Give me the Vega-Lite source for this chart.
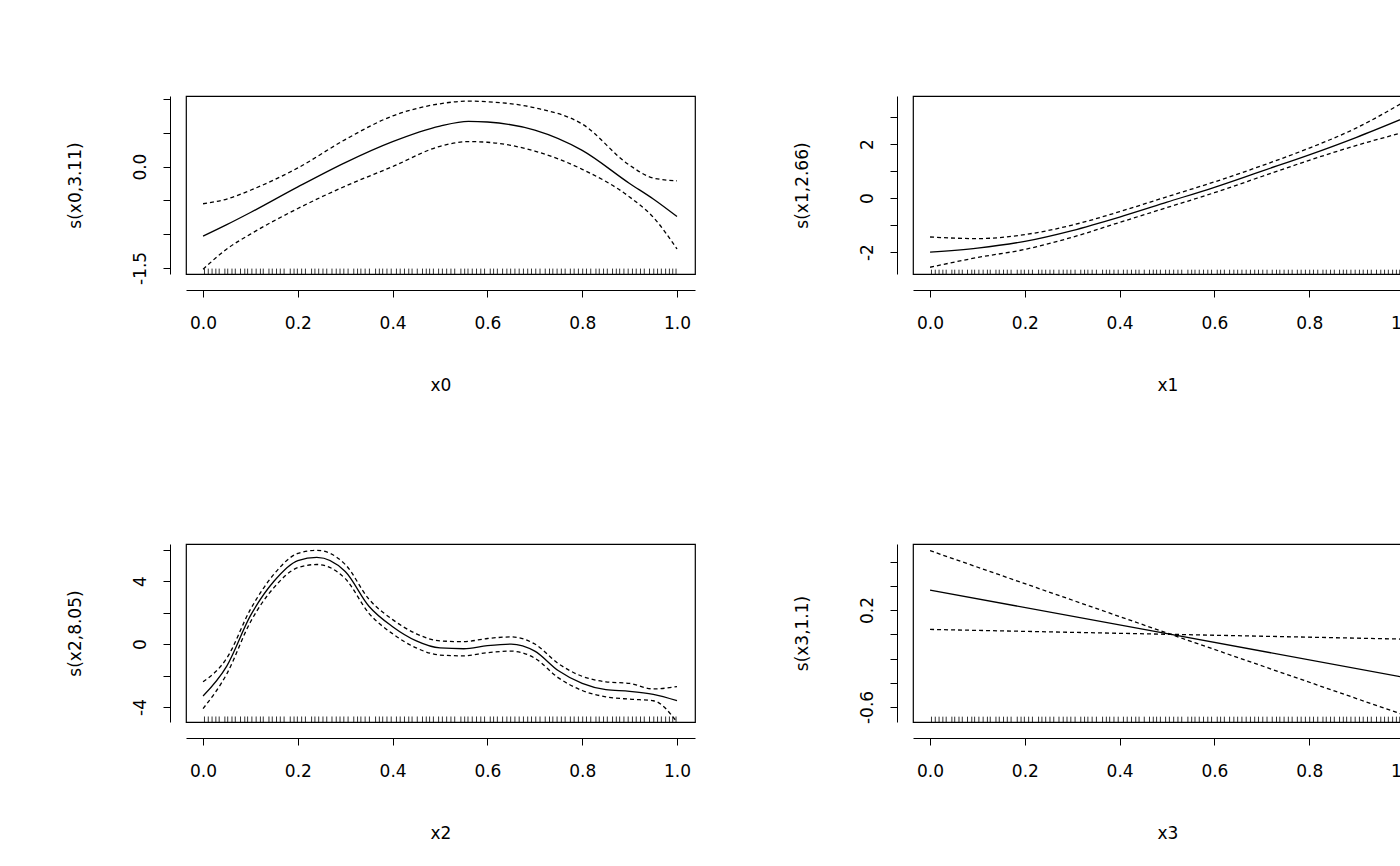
{
  "$schema": "https://vega.github.io/schema/vega-lite/v6.json",
  "background": "white",
  "padding": {"left": 65, "top": 95, "right": 10, "bottom": 10},
  "datasets": {
    "p0": [
      {"x": 0.0, "fit": -1.03, "hi": -0.55, "lo": -1.52},
      {"x": 0.05, "fit": -0.86, "hi": -0.48, "lo": -1.22},
      {"x": 0.1, "fit": -0.68, "hi": -0.35, "lo": -1.0},
      {"x": 0.2, "fit": -0.3, "hi": -0.02, "lo": -0.62},
      {"x": 0.3, "fit": 0.06, "hi": 0.4, "lo": -0.29},
      {"x": 0.4, "fit": 0.37, "hi": 0.75, "lo": 0.0},
      {"x": 0.5, "fit": 0.6, "hi": 0.93, "lo": 0.3},
      {"x": 0.56, "fit": 0.67, "hi": 0.97, "lo": 0.37},
      {"x": 0.6, "fit": 0.66, "hi": 0.96, "lo": 0.36},
      {"x": 0.7, "fit": 0.54, "hi": 0.87, "lo": 0.23},
      {"x": 0.8, "fit": 0.24, "hi": 0.63, "lo": -0.04},
      {"x": 0.9, "fit": -0.25, "hi": 0.02, "lo": -0.45},
      {"x": 0.95, "fit": -0.48, "hi": -0.17, "lo": -0.75},
      {"x": 1.0, "fit": -0.74, "hi": -0.21, "lo": -1.22}
    ],
    "p1": [
      {"x": 0.0, "fit": -2.0, "hi": -1.44, "lo": -2.56},
      {"x": 0.1, "fit": -1.85, "hi": -1.5, "lo": -2.2},
      {"x": 0.2, "fit": -1.6, "hi": -1.35, "lo": -1.9},
      {"x": 0.3, "fit": -1.2, "hi": -1.0, "lo": -1.45},
      {"x": 0.4, "fit": -0.7, "hi": -0.5, "lo": -0.9},
      {"x": 0.5, "fit": -0.15, "hi": 0.05, "lo": -0.35},
      {"x": 0.6, "fit": 0.4, "hi": 0.6, "lo": 0.2},
      {"x": 0.7, "fit": 1.0, "hi": 1.2, "lo": 0.8},
      {"x": 0.8, "fit": 1.6, "hi": 1.85, "lo": 1.4},
      {"x": 0.9, "fit": 2.25, "hi": 2.6, "lo": 1.95},
      {"x": 1.0, "fit": 2.96, "hi": 3.56, "lo": 2.44}
    ],
    "p2": [
      {"x": 0.0, "fit": -3.3, "hi": -2.4, "lo": -4.1},
      {"x": 0.05, "fit": -1.4, "hi": -0.9, "lo": -1.9},
      {"x": 0.1, "fit": 1.8, "hi": 2.2, "lo": 1.4},
      {"x": 0.15, "fit": 4.0, "hi": 4.45, "lo": 3.6},
      {"x": 0.2, "fit": 5.3, "hi": 5.75, "lo": 4.85},
      {"x": 0.24, "fit": 5.5, "hi": 5.95, "lo": 5.05},
      {"x": 0.3, "fit": 4.6, "hi": 5.05, "lo": 4.15},
      {"x": 0.35, "fit": 2.4, "hi": 2.85, "lo": 1.95},
      {"x": 0.4, "fit": 1.1, "hi": 1.55, "lo": 0.65},
      {"x": 0.45, "fit": 0.2, "hi": 0.65, "lo": -0.25},
      {"x": 0.5, "fit": -0.25, "hi": 0.2, "lo": -0.7},
      {"x": 0.55, "fit": -0.3, "hi": 0.15, "lo": -0.75},
      {"x": 0.6, "fit": -0.1, "hi": 0.35, "lo": -0.55},
      {"x": 0.65, "fit": 0.0, "hi": 0.45, "lo": -0.45},
      {"x": 0.7, "fit": -0.45, "hi": 0.0, "lo": -0.9},
      {"x": 0.75, "fit": -1.7, "hi": -1.25, "lo": -2.15},
      {"x": 0.8, "fit": -2.5, "hi": -2.05, "lo": -2.95},
      {"x": 0.85, "fit": -2.9, "hi": -2.4, "lo": -3.35},
      {"x": 0.9, "fit": -3.0, "hi": -2.5, "lo": -3.5},
      {"x": 0.95, "fit": -3.2, "hi": -2.85, "lo": -3.6},
      {"x": 1.0, "fit": -3.6, "hi": -2.7, "lo": -4.95}
    ],
    "p3": [
      {"x": 0.0, "fit": 0.365, "hi": 0.69, "lo": 0.04},
      {"x": 0.5, "fit": 0.005, "hi": 0.01, "lo": 0.0},
      {"x": 1.0, "fit": -0.355, "hi": -0.666, "lo": -0.04}
    ],
    "rug": [
      {"x": 0.003}, {"x": 0.011}, {"x": 0.019}, {"x": 0.027}, {"x": 0.034}, {"x": 0.046}, {"x": 0.052},
      {"x": 0.061}, {"x": 0.068}, {"x": 0.079}, {"x": 0.088}, {"x": 0.094}, {"x": 0.103}, {"x": 0.112},
      {"x": 0.121}, {"x": 0.127}, {"x": 0.139}, {"x": 0.146}, {"x": 0.155}, {"x": 0.163}, {"x": 0.171},
      {"x": 0.184}, {"x": 0.192}, {"x": 0.199}, {"x": 0.208}, {"x": 0.216}, {"x": 0.229}, {"x": 0.236},
      {"x": 0.244}, {"x": 0.253}, {"x": 0.261}, {"x": 0.272}, {"x": 0.281}, {"x": 0.289}, {"x": 0.297},
      {"x": 0.306}, {"x": 0.318}, {"x": 0.326}, {"x": 0.333}, {"x": 0.342}, {"x": 0.351}, {"x": 0.364},
      {"x": 0.372}, {"x": 0.379}, {"x": 0.388}, {"x": 0.397}, {"x": 0.408}, {"x": 0.416}, {"x": 0.425},
      {"x": 0.434}, {"x": 0.441}, {"x": 0.452}, {"x": 0.463}, {"x": 0.471}, {"x": 0.478}, {"x": 0.486},
      {"x": 0.497}, {"x": 0.505}, {"x": 0.514}, {"x": 0.523}, {"x": 0.531}, {"x": 0.544}, {"x": 0.552},
      {"x": 0.559}, {"x": 0.568}, {"x": 0.577}, {"x": 0.586}, {"x": 0.594}, {"x": 0.606}, {"x": 0.613},
      {"x": 0.621}, {"x": 0.632}, {"x": 0.641}, {"x": 0.649}, {"x": 0.658}, {"x": 0.667}, {"x": 0.676},
      {"x": 0.685}, {"x": 0.693}, {"x": 0.702}, {"x": 0.711}, {"x": 0.722}, {"x": 0.731}, {"x": 0.738},
      {"x": 0.747}, {"x": 0.756}, {"x": 0.764}, {"x": 0.775}, {"x": 0.783}, {"x": 0.792}, {"x": 0.801},
      {"x": 0.809}, {"x": 0.818}, {"x": 0.829}, {"x": 0.836}, {"x": 0.845}, {"x": 0.853}, {"x": 0.864},
      {"x": 0.872}, {"x": 0.879}, {"x": 0.888}, {"x": 0.897}, {"x": 0.906}, {"x": 0.914}, {"x": 0.923},
      {"x": 0.931}, {"x": 0.942}, {"x": 0.951}, {"x": 0.959}, {"x": 0.967}, {"x": 0.976}, {"x": 0.984},
      {"x": 0.991}, {"x": 0.998}
    ]
  },
  "spacing": 149,
  "vconcat": [
    {
      "spacing": 96,
      "hconcat": [
        {
          "width": 509, "height": 178,
          "layer": [
            {"data": {"name": "p0"}, "mark": {"type": "line", "color": "black", "strokeWidth": 1.3, "interpolate": "monotone"}, "encoding": {"y": {"field": "fit", "type": "quantitative"}}},
            {"data": {"name": "p0"}, "mark": {"type": "line", "color": "black", "strokeWidth": 1.3, "strokeDash": [4, 3], "interpolate": "monotone"}, "encoding": {"y": {"field": "hi", "type": "quantitative"}}},
            {"data": {"name": "p0"}, "mark": {"type": "line", "color": "black", "strokeWidth": 1.3, "strokeDash": [4, 3], "interpolate": "monotone"}, "encoding": {"y": {"field": "lo", "type": "quantitative"}}},
            {"data": {"name": "rug"}, "mark": {"type": "rule", "color": "black", "strokeWidth": 0.8}, "encoding": {"y": {"datum": -1.59}, "y2": {"datum": -1.51}}}
          ],
          "encoding": {
            "x": {"field": "x", "type": "quantitative", "scale": {"domain": [-0.036, 1.038], "nice": false, "zero": false},
              "axis": {"title": "x0", "values": [0, 0.2, 0.4, 0.6, 0.8, 1.0], "format": ".1f"}},
            "y": {"type": "quantitative", "scale": {"domain": [-1.59, 1.045], "nice": false, "zero": false},
              "axis": {"title": "s(x0,3.11)", "values": [-1.5, -1, -0.5, 0, 0.5, 1], "labelExpr": "datum.value == -1.5 ? '-1.5' : datum.value == 0 ? '0.0' : ''"}}
          }
        },
        {
          "width": 509, "height": 178,
          "layer": [
            {"data": {"name": "p1"}, "mark": {"type": "line", "color": "black", "strokeWidth": 1.3, "interpolate": "monotone"}, "encoding": {"y": {"field": "fit", "type": "quantitative"}}},
            {"data": {"name": "p1"}, "mark": {"type": "line", "color": "black", "strokeWidth": 1.3, "strokeDash": [4, 3], "interpolate": "monotone"}, "encoding": {"y": {"field": "hi", "type": "quantitative"}}},
            {"data": {"name": "p1"}, "mark": {"type": "line", "color": "black", "strokeWidth": 1.3, "strokeDash": [4, 3], "interpolate": "monotone"}, "encoding": {"y": {"field": "lo", "type": "quantitative"}}},
            {"data": {"name": "rug"}, "mark": {"type": "rule", "color": "black", "strokeWidth": 0.8}, "encoding": {"y": {"datum": -2.81}, "y2": {"datum": -2.65}}}
          ],
          "encoding": {
            "x": {"field": "x", "type": "quantitative", "scale": {"domain": [-0.036, 1.038], "nice": false, "zero": false},
              "axis": {"title": "x1", "values": [0, 0.2, 0.4, 0.6, 0.8, 1.0], "format": ".1f"}},
            "y": {"type": "quantitative", "scale": {"domain": [-2.81, 3.78], "nice": false, "zero": false},
              "axis": {"title": "s(x1,2.66)", "values": [-2, -1, 0, 1, 2, 3], "labelExpr": "datum.value == -2 ? '-2' : datum.value == 0 ? '0' : datum.value == 2 ? '2' : ''"}}
          }
        }
      ]
    },
    {
      "spacing": 96,
      "hconcat": [
        {
          "width": 509, "height": 178,
          "layer": [
            {"data": {"name": "p2"}, "mark": {"type": "line", "color": "black", "strokeWidth": 1.3, "interpolate": "monotone"}, "encoding": {"y": {"field": "fit", "type": "quantitative"}}},
            {"data": {"name": "p2"}, "mark": {"type": "line", "color": "black", "strokeWidth": 1.3, "strokeDash": [4, 3], "interpolate": "monotone"}, "encoding": {"y": {"field": "hi", "type": "quantitative"}}},
            {"data": {"name": "p2"}, "mark": {"type": "line", "color": "black", "strokeWidth": 1.3, "strokeDash": [4, 3], "interpolate": "monotone"}, "encoding": {"y": {"field": "lo", "type": "quantitative"}}},
            {"data": {"name": "rug"}, "mark": {"type": "rule", "color": "black", "strokeWidth": 0.8}, "encoding": {"y": {"datum": -4.95}, "y2": {"datum": -4.6}}}
          ],
          "encoding": {
            "x": {"field": "x", "type": "quantitative", "scale": {"domain": [-0.036, 1.038], "nice": false, "zero": false},
              "axis": {"title": "x2", "values": [0, 0.2, 0.4, 0.6, 0.8, 1.0], "format": ".1f"}},
            "y": {"type": "quantitative", "scale": {"domain": [-4.95, 6.35], "nice": false, "zero": false},
              "axis": {"title": "s(x2,8.05)", "values": [-4, -2, 0, 2, 4, 6], "labelExpr": "datum.value == -4 ? '-4' : datum.value == 0 ? '0' : datum.value == 4 ? '4' : ''"}}
          }
        },
        {
          "width": 509, "height": 178,
          "layer": [
            {"data": {"name": "p3"}, "mark": {"type": "line", "color": "black", "strokeWidth": 1.3}, "encoding": {"y": {"field": "fit", "type": "quantitative"}}},
            {"data": {"name": "p3"}, "mark": {"type": "line", "color": "black", "strokeWidth": 1.3, "strokeDash": [4, 3]}, "encoding": {"y": {"field": "hi", "type": "quantitative"}}},
            {"data": {"name": "p3"}, "mark": {"type": "line", "color": "black", "strokeWidth": 1.3, "strokeDash": [4, 3]}, "encoding": {"y": {"field": "lo", "type": "quantitative"}}},
            {"data": {"name": "rug"}, "mark": {"type": "rule", "color": "black", "strokeWidth": 0.8}, "encoding": {"y": {"datum": -0.724}, "y2": {"datum": -0.68}}}
          ],
          "encoding": {
            "x": {"field": "x", "type": "quantitative", "scale": {"domain": [-0.036, 1.038], "nice": false, "zero": false},
              "axis": {"title": "x3", "values": [0, 0.2, 0.4, 0.6, 0.8, 1.0], "format": ".1f"}},
            "y": {"type": "quantitative", "scale": {"domain": [-0.724, 0.745], "nice": false, "zero": false},
              "axis": {"title": "s(x3,1.1)", "values": [-0.6, -0.4, -0.2, 0, 0.2, 0.4, 0.6], "labelExpr": "abs(datum.value + 0.6) < 0.01 ? '-0.6' : abs(datum.value - 0.2) < 0.01 ? '0.2' : ''"}}
          }
        }
      ]
    }
  ],
  "config": {
    "font": "DejaVu Sans",
    "view": {"stroke": "black", "strokeWidth": 1.2},
    "axis": {
      "grid": false,
      "domainColor": "black",
      "tickColor": "black",
      "labelColor": "black",
      "titleColor": "black",
      "labelFont": "DejaVu Sans",
      "titleFont": "DejaVu Sans",
      "labelFontSize": 17,
      "titleFontSize": 17,
      "titleFontWeight": "normal",
      "tickSize": 7,
      "offset": 16
    },
    "axisX": {"labelPadding": 18, "titlePadding": 46},
    "axisY": {"labelAngle": -90, "labelAlign": "center", "labelBaseline": "bottom", "labelPadding": 14, "titlePadding": 47}
  }
}
